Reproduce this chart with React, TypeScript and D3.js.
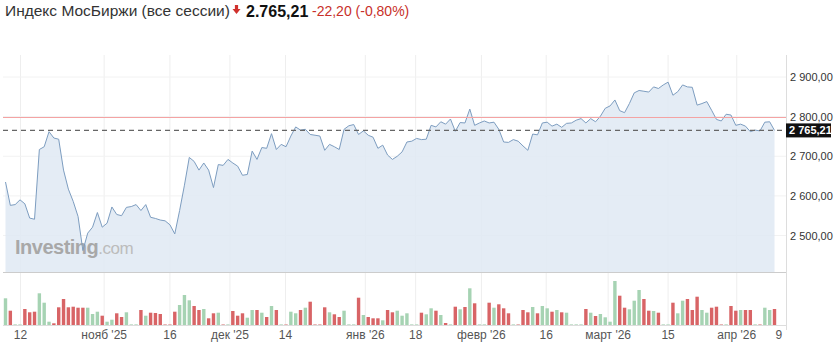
import React from "react";
import * as d3 from "d3";

const closes: number[] = [
  2635, 2576, 2578, 2590, 2580, 2544, 2541, 2717, 2724, 2762, 2746, 2743, 2665, 2617, 2586, 2548, 2462, 2506, 2521, 2558,
  2521, 2531, 2572, 2553, 2550, 2571, 2573, 2578, 2563, 2578, 2546, 2543, 2539, 2537, 2527, 2504, 2563, 2627, 2697, 2687,
  2665, 2683, 2665, 2621, 2679, 2677, 2692, 2683, 2675, 2652, 2654, 2713, 2692, 2722, 2720, 2757, 2717, 2730, 2724, 2751,
  2774, 2766, 2768, 2755, 2753, 2751, 2715, 2730, 2724, 2717, 2768, 2777, 2780, 2755, 2764, 2753, 2748, 2720, 2728, 2703,
  2692, 2700, 2711, 2736, 2738, 2745, 2742, 2743, 2778, 2774, 2787, 2781, 2794, 2763, 2785, 2784, 2819, 2778, 2784, 2789,
  2784, 2786, 2768, 2736, 2735, 2742, 2738, 2726, 2715, 2756, 2754, 2784, 2786, 2776, 2781, 2773, 2783, 2784, 2791, 2795,
  2784, 2795, 2787, 2801, 2821, 2827, 2842, 2815, 2810, 2833, 2860, 2866, 2864, 2862, 2875, 2871, 2880, 2887, 2854, 2863,
  2880, 2875, 2874, 2829, 2833, 2838, 2816, 2793, 2789, 2806, 2804, 2778, 2781, 2776, 2762, 2766, 2764, 2786, 2787, 2765.21,
];

const volumes: number[] = [
  26.7, 14.3, 1, 1, 16, 12.7, 13.3, 31.7, 22.3, 3.3, 1.7, 17.7, 26, 17.7, 18.3, 17.3, 17.3, 17.3, 11, 13.3,
  9.3, 3.3, 5.3, 11.7, 8, 12.7, 1, 1, 15, 9.3, 12.3, 12, 11, 1, 1, 13.3, 20, 30, 24.7, 19,
  15, 16, 6.7, 11.7, 12.3, 1, 1, 14, 9.3, 11.7, 7.3, 15, 15, 12.3, 8, 19, 15, 1, 1, 13.3,
  11.7, 15, 17.3, 23.3, 1, 1, 17.7, 12.7, 10.7, 8, 14.3, 1, 1, 27.3, 10, 8, 6.7, 6.7, 4.7, 15,
  12.7, 14.3, 9.3, 11.7, 1, 1, 12.3, 10.7, 16.7, 14.3, 10, 2, 1, 18.3, 15.7, 18, 36.7, 21.7, 1, 1,
  22.3, 17.3, 20.7, 16.7, 11.7, 1, 1, 15, 12.7, 18, 11.7, 19, 16.7, 13.3, 15, 12.7, 12.3, 1, 1, 1,
  16, 12.3, 9, 11, 7.7, 3.3, 44, 29.3, 17.3, 15.7, 24.3, 35, 26, 14.3, 14, 12.3, 1, 1, 22.3, 11.7,
  24.3, 26, 15, 28.3, 15, 12.3, 17.3, 18.3, 1, 1, 19, 14.3, 15, 15, 15, 1, 1, 17.3, 15, 16,
];

const xTickPos: number[] = [3.1, 20.4, 34, 46.4, 57.9, 74.4, 84.8, 98.4, 111.8, 124.6, 137, 151.2];
const xTickLabels: string[] = ["12", "нояб '25", "16", "дек '25", "14", "янв '26", "18", "февр '26", "16", "март '26", "15", "апр '26"];
const lastLabelPos = 159.9;
const lastLabel = "9";

const yTicks: number[] = [2500, 2600, 2700, 2800, 2900];
const yTickLabels: string[] = ["2 500,00", "2 600,00", "2 700,00", "2 800,00", "2 900,00"];

const lastPrice = 2765.21;
const refLevel = 2797.8;
const titleName = "Индекс МосБиржи (все сессии)";
const titlePrice = "2.765,21";
const titleChange = "-22,20 (-0,80%)";
const lastPriceLabel = "2 765,21";

const FONT = "'Liberation Sans', Arial, sans-serif";

export default function App() {
  const W = 835;
  const H = 345;
  const plotLeft = 3;
  const plotRight = 786;
  const plotTop = 55;
  const plotBottom = 272;
  const volBase = 325;

  const x = d3.scaleLinear().domain([0, closes.length - 1]).range([5.5, 774.5]);
  const y = d3.scaleLinear().domain([2500, 2900]).range([235.5, 77]);
  const yv = d3.scaleLinear().domain([0, d3.max(volumes) as number]).range([volBase, 281]);

  const line = d3
    .line<number>()
    .x((_, i) => x(i))
    .y((d) => y(d));
  const area = d3
    .area<number>()
    .x((_, i) => x(i))
    .y0(plotBottom)
    .y1((d) => y(d));

  const barW = 3.4;

  return (
    <svg width={W} height={H} style={{ position: "absolute", left: 0, top: 0, background: "#fff" }} fontFamily={FONT}>
      {/* title */}
      <text x={5} y={16} fontSize={15.5} fill="#333">{titleName}</text>
      <g transform="translate(236.5,10)" fill="#d0312d">
        <rect x={-1.6} y={-5} width={3.2} height={4.5} />
        <path d="M-4,-1 L4,-1 L0,4 Z" />
      </g>
      <text x={246} y={16.5} fontSize={16} fontWeight="bold" fill="#111">{titlePrice}</text>
      <text x={312} y={16} fontSize={14} fill="#c8302a">{titleChange}</text>

      {/* vertical grid */}
      {xTickPos.map((p, i) => (
        <line key={"vg" + i} x1={x(p)} x2={x(p)} y1={plotTop} y2={volBase} stroke="#eeeeee" strokeWidth={1} />
      ))}
      {/* horizontal grid */}
      {yTicks.map((t, i) => (
        <line key={"hg" + i} x1={plotLeft} x2={plotRight} y1={y(t)} y2={y(t)} stroke="#f2f2f2" strokeWidth={1} />
      ))}

      {/* area + line */}
      <path d={area(closes) || ""} fill="#dfe9f3" fillOpacity={0.85} />

      {/* watermark */}
      <text x={15} y={254} fontSize={20} fontWeight="bold" fill="#a8a8a8" letterSpacing={-0.5}>
        Investing<tspan fontWeight="normal" fontSize={17} fill="#bcbcbc">.com</tspan>
      </text>

      <path d={line(closes) || ""} fill="none" stroke="#7d9dc0" strokeWidth={1} />

      {/* reference line */}
      <line x1={plotLeft} x2={plotRight} y1={y(refLevel)} y2={y(refLevel)} stroke="#f4a3a3" strokeWidth={1} shapeRendering="crispEdges" />
      {/* last price dashed line */}
      <line x1={plotLeft} x2={plotRight} y1={y(lastPrice)} y2={y(lastPrice)} stroke="#666" strokeWidth={1.2} strokeDasharray="5,4" />

      {/* plot bottom */}
      <line x1={plotLeft} x2={plotRight} y1={plotBottom + 0.5} y2={plotBottom + 0.5} stroke="#cccccc" strokeWidth={1} />

      {/* volume bars */}
      {volumes.map((v, i) => {
        const up = i === 0 ? true : closes[i] >= closes[i - 1];
        const small = v < 1.5;
        const fill = up ? (small ? "#c9e2d0" : "#a6d3b3") : small ? "#e6b3b3" : "#d86466";
        const top = yv(v);
        return <rect key={"b" + i} x={x(i) - barW / 2} y={top} width={barW} height={volBase - top} fill={fill} />;
      })}
      <line x1={plotLeft} x2={plotRight} y1={volBase + 0.5} y2={volBase + 0.5} stroke="#dddddd" strokeWidth={1} />

      {/* right axis */}
      <line x1={plotRight + 0.5} x2={plotRight + 0.5} y1={plotTop} y2={volBase + 5} stroke="#dddddd" strokeWidth={1} />
      {yTicks.map((t, i) => (
        <text key={"yl" + i} x={790} y={y(t) + 4} fontSize={11} fill="#333">{yTickLabels[i]}</text>
      ))}
      <rect x={786} y={y(lastPrice) - 7} width={45} height={14} fill="#111" />
      <text x={789} y={y(lastPrice) + 4} fontSize={11} fontWeight="bold" fill="#fff">{lastPriceLabel}</text>

      {/* x axis labels */}
      {xTickPos.map((p, i) => (
        <text key={"xl" + i} x={x(p)} y={339} fontSize={12} fill="#555" textAnchor="middle">{xTickLabels[i]}</text>
      ))}
      <text x={x(lastLabelPos)} y={339} fontSize={12} fill="#555" textAnchor="middle">{lastLabel}</text>
    </svg>
  );
}
